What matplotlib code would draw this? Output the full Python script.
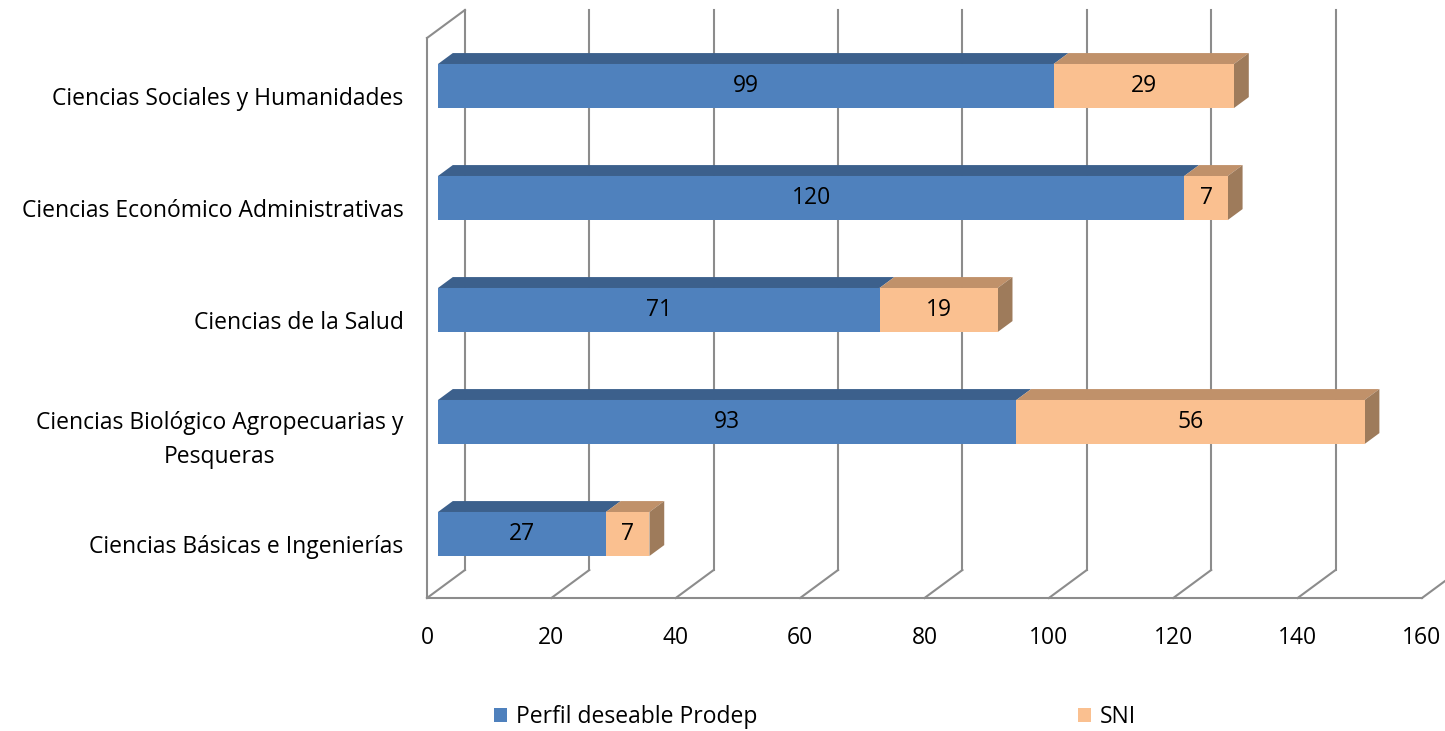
import matplotlib.pyplot as plt
from matplotlib.patches import Polygon

plt.rcParams['font.family'] = ['Open Sans', 'DejaVu Sans']

categorias = ["Ciencias Básicas e Ingenierías",
              "Ciencias Biológico Agropecuarias y\nPesqueras",
              "Ciencias de la Salud",
              "Ciencias Económico Administrativas",
              "Ciencias Sociales y Humanidades"]
prodep = [27, 93, 71, 120, 99]
sni = [7, 56, 19, 7, 29]
series = ["Perfil deseable Prodep", "SNI"]
xticks = [0, 20, 40, 60, 80, 100, 120, 140, 160]

# colores: frente, arriba, lado
azul = ("#4f81bd", "#3c608c", "#34557d")
naranja = ("#fac090", "#c0916a", "#9e7b5b")
gris = "#8c8c8c"
fs = 16.5

# pseudo 3D (en unidades de datos)
PX, PY = 6.1, 0.25          # profundidad de la pared
f0, f1 = 0.29, 0.68         # fraccion de profundidad de la barra
dx0, dy0 = f0 * PX, f0 * PY
ddx, ddy = (f1 - f0) * PX, (f1 - f0) * PY
alto = 0.393

fig = plt.figure(figsize=(14.45, 7.31), dpi=100)
ax = fig.add_axes([427 / 1445, 133 / 731, 995 / 1445, 588 / 731])
ax.set_xlim(0, 160)
ymin, ymax = -64 / 112, -64 / 112 + 588 / 112
ax.set_ylim(ymin, ymax)
for s in ax.spines.values():
    s.set_visible(False)

# paredes y rejilla
lw = 1.5
ax.plot([0, 0], [ymin, ymax - PY], color=gris, lw=lw, clip_on=False, zorder=1)
ax.plot([0, PX], [ymax - PY, ymax], color=gris, lw=lw, clip_on=False, zorder=1)
ax.plot([0, 160], [ymin, ymin], color=gris, lw=lw, clip_on=False, zorder=1)
for t in xticks:
    ax.plot([t, t + PX], [ymin, ymin + PY], color=gris, lw=lw, clip_on=False, zorder=1)
    ax.plot([t + PX, t + PX], [ymin + PY, ymax], color=gris, lw=lw, clip_on=False, zorder=1)

ypos = list(range(len(categorias)))
b1 = ax.barh(ypos, prodep, left=dx0, height=alto, color=azul[0], zorder=3, label=series[0])
izq2 = [dx0 + p for p in prodep]
b2 = ax.barh(ypos, sni, left=izq2, height=alto, color=naranja[0], zorder=3, label=series[1])

for i in ypos:
    yt = i + alto / 2
    yb = i - alto / 2
    segs = [(dx0, dx0 + prodep[i], azul), (dx0 + prodep[i], dx0 + prodep[i] + sni[i], naranja)]
    for x0, x1, c in segs:
        ax.add_patch(Polygon([(x0, yt), (x1, yt), (x1 + ddx, yt + ddy), (x0 + ddx, yt + ddy)],
                             closed=True, facecolor=c[1], edgecolor='none', zorder=2.5))
    x1 = segs[-1][1]
    ax.add_patch(Polygon([(x1, yb), (x1, yt), (x1 + ddx, yt + ddy), (x1 + ddx, yb + ddy)],
                         closed=True, facecolor=naranja[2], edgecolor='none', zorder=2.5))
    ax.text(dx0 + prodep[i] / 2, i, str(prodep[i]), ha='center', va='center', fontsize=fs, zorder=4)
    ax.text(dx0 + prodep[i] + sni[i] / 2, i, str(sni[i]), ha='center', va='center', fontsize=fs, zorder=4)

ax.set_xticks(xticks)
ax.set_xticklabels([str(t) for t in xticks], fontsize=fs)
# las etiquetas de categoria van un poco por debajo del centro de la barra
ax.set_yticks([y - 0.09 for y in ypos])
ax.set_yticklabels(categorias, fontsize=fs)
for lab in ax.get_yticklabels():
    lab.set_multialignment('center')
    lab.set_linespacing(1.55)
ax.tick_params(axis='x', length=0, pad=20.5)
ax.tick_params(axis='y', length=0, pad=17)

fig.legend(handles=[b1, b2], labels=series, loc='center left', bbox_to_anchor=(494 / 1445, 14 / 731),
           ncol=2, frameon=False, fontsize=fs, handlelength=0.55, handleheight=0.55,
           handletextpad=0.4, columnspacing=14.0, borderpad=0, borderaxespad=0)

fig.savefig("out.png", dpi=100)
